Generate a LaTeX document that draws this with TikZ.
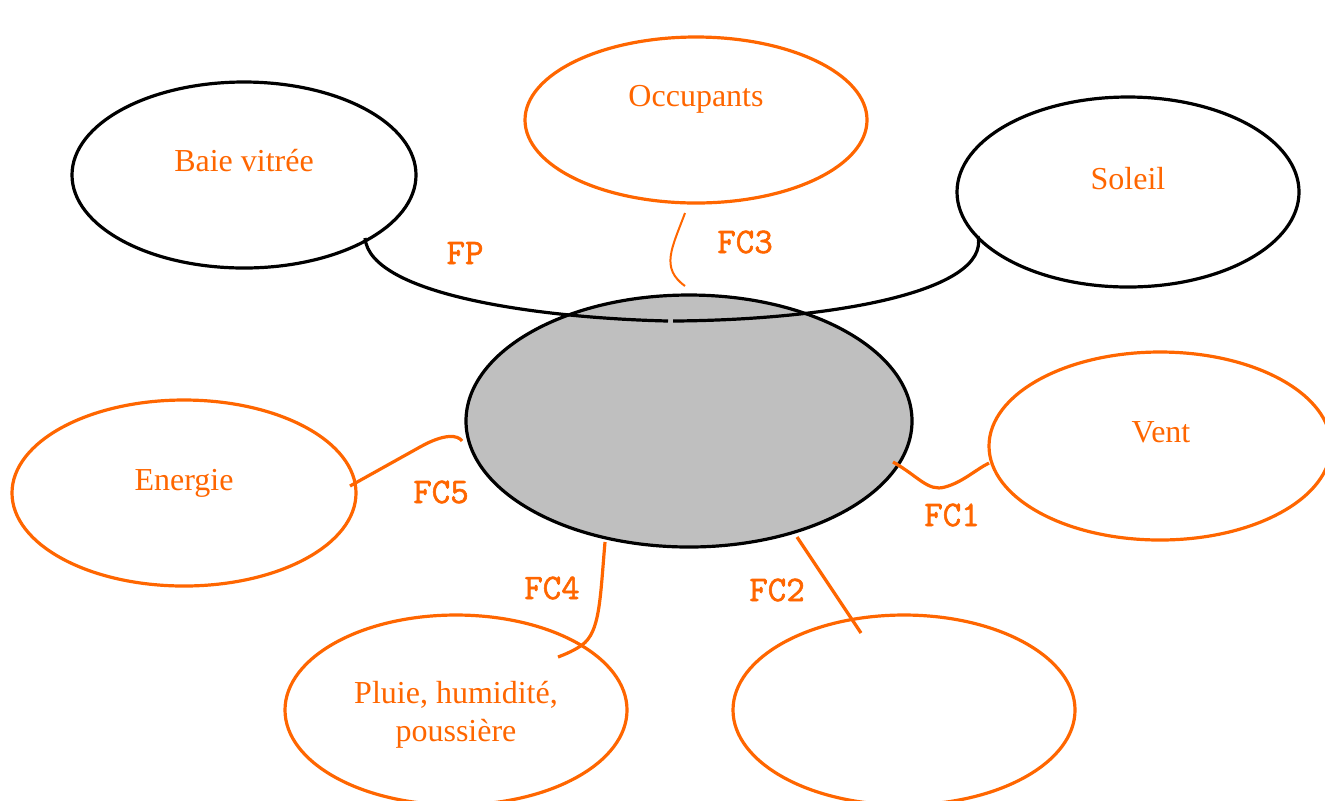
\documentclass[tikz,border=0pt]{standalone}
\usepackage{fontspec}
\setmainfont{Liberation Serif}
\newfontfamily\fcfont{Latin Modern Mono}[FakeBold=1.6]
\usetikzlibrary{shapes.geometric}
\definecolor{org}{RGB}{255,102,0}
\definecolor{core}{RGB}{191,191,191}
\tikzset{
  env/.style={ellipse, draw=org, line width=1.6pt, inner sep=0pt},
  envk/.style={ellipse, draw=black, line width=1.6pt, inner sep=0pt},
  eltext/.style={text=org, font=\fontsize{16}{19}\selectfont, align=center},
  fc/.style={text=org, font=\fcfont\fontsize{18}{20}\selectfont},
  link/.style={draw=org, line width=1.6pt},
  thinlink/.style={draw=org, line width=1pt},
  fp/.style={draw=black, line width=1.6pt},
}
\begin{document}
\begin{tikzpicture}[x=0.5pt,y=-0.5pt]
\useasboundingbox (0,0) rectangle (1325,800);

% surrounding elements
\node[envk, minimum width=172pt, minimum height=93pt] (baie) at (244,175) {};
\node[env,  minimum width=171pt, minimum height=83pt] (occ) at (696,120) {};
\node[envk, minimum width=171pt, minimum height=95pt] (soleil) at (1128,192) {};
\node[env,  minimum width=172pt, minimum height=93pt] (energie) at (184,493) {};
\node[env,  minimum width=171pt, minimum height=94pt] (vent) at (1160,446) {};
\node[env,  minimum width=171pt, minimum height=95pt] (pluie) at (456,710) {};
\node[env,  minimum width=171pt, minimum height=95pt] (vide) at (904,710) {};

% the product
\node[ellipse, draw=black, fill=core, line width=1.6pt, inner sep=0pt,
      minimum width=223pt, minimum height=126pt] (prod) at (689,421) {};

% element names
\node[eltext] (tbaie) at (244,161) {Baie vitrée};
\node[eltext] (tocc) at (696,99) {Occupants};
\node[eltext] (tsoleil) at (1128,179) {Soleil};
\node[eltext] (tenergie) at (184,483) {Energie};
\node[eltext] (tvent) at (1161,432) {Vent};
\node[eltext] (tpluie) at (456,715) {Pluie, humidité,\\poussière};

% end points of the links
\coordinate (fpA) at (365,238);
\coordinate (fpM1) at (668,321);
\coordinate (fpM2) at (673,321);
\coordinate (fpB) at (978,236);
\coordinate (c3a) at (685,213);
\coordinate (c3b) at (685,286);
\coordinate (c5a) at (350,486);
\coordinate (c5b) at (462,441);
\coordinate (c1a) at (893,462);
\coordinate (c1b) at (989,463);
\coordinate (c4a) at (605,542);
\coordinate (c4b) at (558,657);
\coordinate (c2a) at (797,537);
\coordinate (c2b) at (861,633);

% main function FP
\draw[fp] (fpA) .. controls (370,295) and (540,318) .. (fpM1);
\draw[fp] (fpM2) .. controls (830,320) and (990,292) .. (fpB);

% constraint functions
\draw[thinlink] (c3a) .. controls (672,248) and (660,268) .. (c3b);
\draw[link] (c5a) -- (420,447) .. controls (445,433) and (458,435) .. (c5b);
\draw[link] (c1a) .. controls (918,476) and (928,492) .. (945,487)
            .. controls (963,482) and (975,470) .. (c1b);
\draw[link] (c4a) .. controls (600,600) and (600,632) .. (582,645)
            .. controls (575,650) and (566,654) .. (c4b);
\draw[link] (c2a) -- (c2b);

% function labels
\node[fc] (lfp) at (465,253) {FP};
\node[fc] (lfc3) at (745,242) {FC3};
\node[fc] (lfc5) at (441,492) {FC5};
\node[fc] (lfc1) at (952,515) {FC1};
\node[fc] (lfc4) at (552,588) {FC4};
\node[fc] (lfc2) at (777,590) {FC2};
\end{tikzpicture}
\end{document}
